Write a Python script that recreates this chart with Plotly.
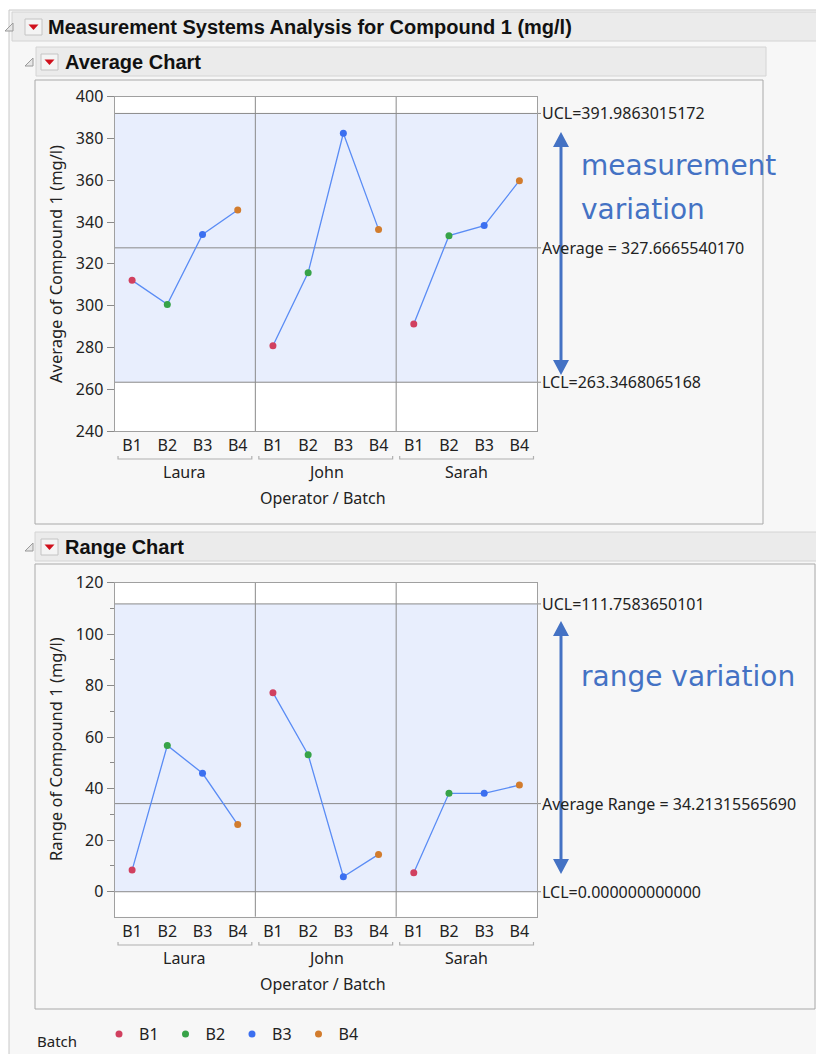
import plotly.graph_objects as go

W, H = 816, 1054

# ---------------- data ----------------
operators = ["Laura", "John", "Sarah"]
batches = ["B1", "B2", "B3", "B4"]
avg_values = [312.1, 300.6, 334.1, 345.8,
              280.8, 315.8, 382.5, 336.5,
              291.2, 333.5, 338.3, 359.8]
range_values = [8.4, 56.8, 46.0, 26.1,
                77.3, 53.2, 5.8, 14.5,
                7.4, 38.2, 38.2, 41.4]
avg_limits = [391.9863015172, 327.6665540170, 263.3468065168]
range_limits = [111.7583650101, 34.21315565690, 0.0]
avg_limit_labels = ["UCL=391.9863015172", "Average = 327.6665540170", "LCL=263.3468065168"]
range_limit_labels = ["UCL=111.7583650101", "Average Range = 34.21315565690", "LCL=0.000000000000"]
batch_colors = ["#d1405f", "#37a348", "#3b6ff0", "#d27c2d"]

# ---------------- helpers ----------------
def px(x):
    return x / W

def py(y):
    return 1 - y / H

FONT = "Noto Sans, Open Sans, sans-serif"
HFONT = "Liberation Sans, Arial, sans-serif"
TXT = "#222222"
BLUE = "#4472c4"

xdom = [px(114.5), px(537)]
avg_ydom = [py(431), py(96.7)]
rng_ydom = [py(916.7), py(582.7)]

fig = go.Figure()

n_b = len(batches)
xs = list(range(len(operators) * n_b))

# traces: lines per operator, markers per batch
for chart, vals, xa, ya in [(0, avg_values, "x", "y"), (1, range_values, "x2", "y2")]:
    for o in range(len(operators)):
        idx = list(range(o * n_b, (o + 1) * n_b))
        fig.add_trace(go.Scatter(
            x=[xs[i] for i in idx], y=[vals[i] for i in idx], mode="lines",
            line=dict(color="#5a8cf5", width=1.3), showlegend=False,
            hoverinfo="skip", xaxis=xa, yaxis=ya))
    for b in range(n_b):
        idx = [o * n_b + b for o in range(len(operators))]
        fig.add_trace(go.Scatter(
            x=[xs[i] for i in idx], y=[vals[i] for i in idx], mode="markers",
            marker=dict(color=batch_colors[b], size=7), name=batches[b],
            legendgroup=batches[b], showlegend=(chart == 0),
            xaxis=xa, yaxis=ya))

shapes = []

def rect(x0, y0, x1, y1, fill, line="#c8c8c8", lw=1, layer="below"):
    shapes.append(dict(type="rect", xref="paper", yref="paper",
                       x0=px(x0), x1=px(x1), y0=py(y1), y1=py(y0),
                       fillcolor=fill, line=dict(color=line, width=lw), layer=layer))

# report frame
rect(9, 10, 820, 1060, "#f7f7f7", "#c8c8c8")
rect(12, 12, 820, 41, "#ebebeb", "#d4d4d4")
rect(36, 47, 766, 76, "#ebebeb", "#d4d4d4")
rect(35, 80, 763, 524, "#f7f7f7", "#a9a9a9")
rect(35, 532, 820, 561, "#ebebeb", "#d4d4d4")
rect(35, 564, 815, 1009, "#f7f7f7", "#a9a9a9")

# menu buttons (red triangles) and disclosure icons
for bx, by in [(25, 19), (41, 54), (41, 539)]:
    rect(bx, by, bx + 17, by + 16, "#f4f4f4", "#c4c4c4")
    cx, cy = bx + 8.5, by + 8
    shapes.append(dict(type="path", xref="paper", yref="paper",
                       path=f"M {px(cx-5)},{py(cy-2.5)} L {px(cx+5)},{py(cy-2.5)} L {px(cx)},{py(cy+3)} Z",
                       fillcolor="#d0101c", line=dict(width=0), layer="below"))
for tx, ty in [(9, 27), (29, 62), (29, 547)]:
    shapes.append(dict(type="path", xref="paper", yref="paper",
                       path=f"M {px(tx-4)},{py(ty+4)} L {px(tx+4)},{py(ty+4)} L {px(tx+4)},{py(ty-4)} Z",
                       fillcolor="#e6e6e6", line=dict(color="#9a9a9a", width=1), layer="below"))

# chart internals
for ydom, ya, lims in [(avg_ydom, "y", avg_limits), (rng_ydom, "y2", range_limits)]:
    shapes.append(dict(type="rect", xref="paper", yref="paper", x0=xdom[0], x1=xdom[1],
                       y0=ydom[0], y1=ydom[1], fillcolor="white", line=dict(width=0), layer="below"))
    shapes.append(dict(type="rect", xref="paper", yref=ya, x0=xdom[0], x1=xdom[1],
                       y0=lims[2], y1=lims[0], fillcolor="#e8eefd", line=dict(width=0), layer="below"))
    for v in lims:
        shapes.append(dict(type="line", xref="paper", yref=ya, x0=xdom[0], x1=px(541),
                           y0=v, y1=v, line=dict(color="#8a8a8a", width=1), layer="below"))
    xa = "x" if ya == "y" else "x2"
    for o in range(1, len(operators)):
        xv = o * n_b - 0.5
        shapes.append(dict(type="line", xref=xa, yref="paper", x0=xv, x1=xv,
                           y0=ydom[0], y1=ydom[1], line=dict(color="#8a8a8a", width=1), layer="below"))

# operator brackets
annotations = []
for xa, by, ly, oy in [("x", 459, 472.5, 498.5), ("x2", 945, 958, 984)]:
    for o, name in enumerate(operators):
        x0 = o * n_b - 0.4
        x1 = (o + 1) * n_b - 0.6
        shapes.append(dict(type="path", xref=xa, yref="paper",
                           path=f"M {x0},{py(by-3)} L {x0},{py(by)} L {x1},{py(by)} L {x1},{py(by-3)}",
                           line=dict(color="#b0b0b0", width=1.2), layer="below"))
        annotations.append(dict(xref=xa, yref="paper", x=o * n_b + (n_b - 1) / 2, y=py(ly),
                                text=name, showarrow=False, font=dict(family=FONT, size=16, color=TXT),
                                xanchor="center", yanchor="middle"))
    annotations.append(dict(xref="paper", yref="paper", x=px(323), y=py(oy),
                            text="Operator / Batch", showarrow=False,
                            font=dict(family=FONT, size=16, color=TXT), xanchor="center", yanchor="middle"))

# limit labels
for ya, lims, labels in [("y", avg_limits, avg_limit_labels), ("y2", range_limits, range_limit_labels)]:
    for v, t in zip(lims, labels):
        annotations.append(dict(xref="paper", yref=ya, x=px(540), y=v, text=t, showarrow=False,
                                font=dict(family=FONT, size=16, color=TXT),
                                xanchor="left", yanchor="middle"))

# y axis titles
annotations.append(dict(xref="paper", yref="paper", x=px(55), y=py(264), text="Average of Compound 1 (mg/l)",
                        textangle=-90, showarrow=False, font=dict(family=FONT, size=16.5, color=TXT),
                        xanchor="center", yanchor="middle"))
annotations.append(dict(xref="paper", yref="paper", x=px(55), y=py(749), text="Range of Compound 1 (mg/l)",
                        textangle=-90, showarrow=False, font=dict(family=FONT, size=16.5, color=TXT),
                        xanchor="center", yanchor="middle"))

# headers
for x, y, t in [(46, 27, "Measurement Systems Analysis for Compound 1 (mg/l)"),
                (63, 62, "Average Chart"), (63, 547, "Range Chart")]:
    annotations.append(dict(xref="paper", yref="paper", x=px(x), y=py(y), text=f"<b>{t}</b>",
                            showarrow=False, font=dict(family=HFONT, size=20, color="#111111"),
                            xanchor="left", yanchor="middle"))

# legend title
annotations.append(dict(xref="paper", yref="paper", x=px(35), y=py(1041), text="Batch", showarrow=False,
                        font=dict(family=FONT, size=15, color=TXT), xanchor="left", yanchor="middle"))

# blue call-outs
for y, t in [(166, "measurement"), (210, "variation"), (676, "range&nbsp;variation")]:
    annotations.append(dict(xref="paper", yref="paper", x=px(579), y=py(y), text=t, showarrow=False,
                            font=dict(family="DejaVu Sans, sans-serif", size=28, color=BLUE),
                            xanchor="left", yanchor="middle"))

for top, bot in [(132, 375), (621, 874)]:
    cx = 561
    shapes.append(dict(type="line", xref="paper", yref="paper", x0=px(cx), x1=px(cx),
                       y0=py(top + 10), y1=py(bot - 10), line=dict(color=BLUE, width=3), layer="above"))
    shapes.append(dict(type="path", xref="paper", yref="paper",
                       path=f"M {px(cx)},{py(top)} L {px(cx-8)},{py(top+15)} L {px(cx+8)},{py(top+15)} Z",
                       fillcolor=BLUE, line=dict(width=0), layer="above"))
    shapes.append(dict(type="path", xref="paper", yref="paper",
                       path=f"M {px(cx)},{py(bot)} L {px(cx-8)},{py(bot-15)} L {px(cx+8)},{py(bot-15)} Z",
                       fillcolor=BLUE, line=dict(width=0), layer="above"))

ticktext = batches * len(operators)
xaxis_common = dict(domain=xdom, range=[-0.5, len(xs) - 0.5], tickmode="array", tickvals=xs,
                    ticktext=ticktext, ticks="", showline=True, mirror=True, linecolor="#a0a0a0",
                    linewidth=1, showgrid=False, zeroline=False, fixedrange=True, automargin=False,
                    tickfont=dict(family=FONT, size=16, color=TXT))
yaxis_common = dict(ticks="outside", ticklen=7, tickcolor="#8a8a8a", tickwidth=1,
                    showline=True, mirror=True, linecolor="#a0a0a0", linewidth=1,
                    showgrid=False, zeroline=False, fixedrange=True, automargin=False,
                    tickfont=dict(family=FONT, size=16, color=TXT))

fig.update_layout(
    width=W, height=H, margin=dict(l=0, r=0, t=0, b=0, autoexpand=False),
    paper_bgcolor="white", plot_bgcolor="rgba(0,0,0,0)",
    xaxis=dict(**xaxis_common, anchor="y"),
    yaxis=dict(**yaxis_common, domain=avg_ydom, range=[240, 400], dtick=20, anchor="x"),
    xaxis2=dict(**xaxis_common, anchor="y2"),
    yaxis2=dict(**yaxis_common, domain=rng_ydom, range=[-9.7, 120], dtick=20, anchor="x2",
                minor=dict(dtick=10, ticks="outside", ticklen=4, tickcolor="#8a8a8a")),
    shapes=shapes, annotations=annotations,
    showlegend=True,
    legend=dict(orientation="h", x=px(99), y=py(1034), xanchor="left", yanchor="middle",
                font=dict(family=FONT, size=16, color=TXT), bgcolor="rgba(0,0,0,0)",
                itemwidth=30, entrywidth=21.5, entrywidthmode="pixels"),
    hovermode=False,
)

fig.write_html("out.html")
